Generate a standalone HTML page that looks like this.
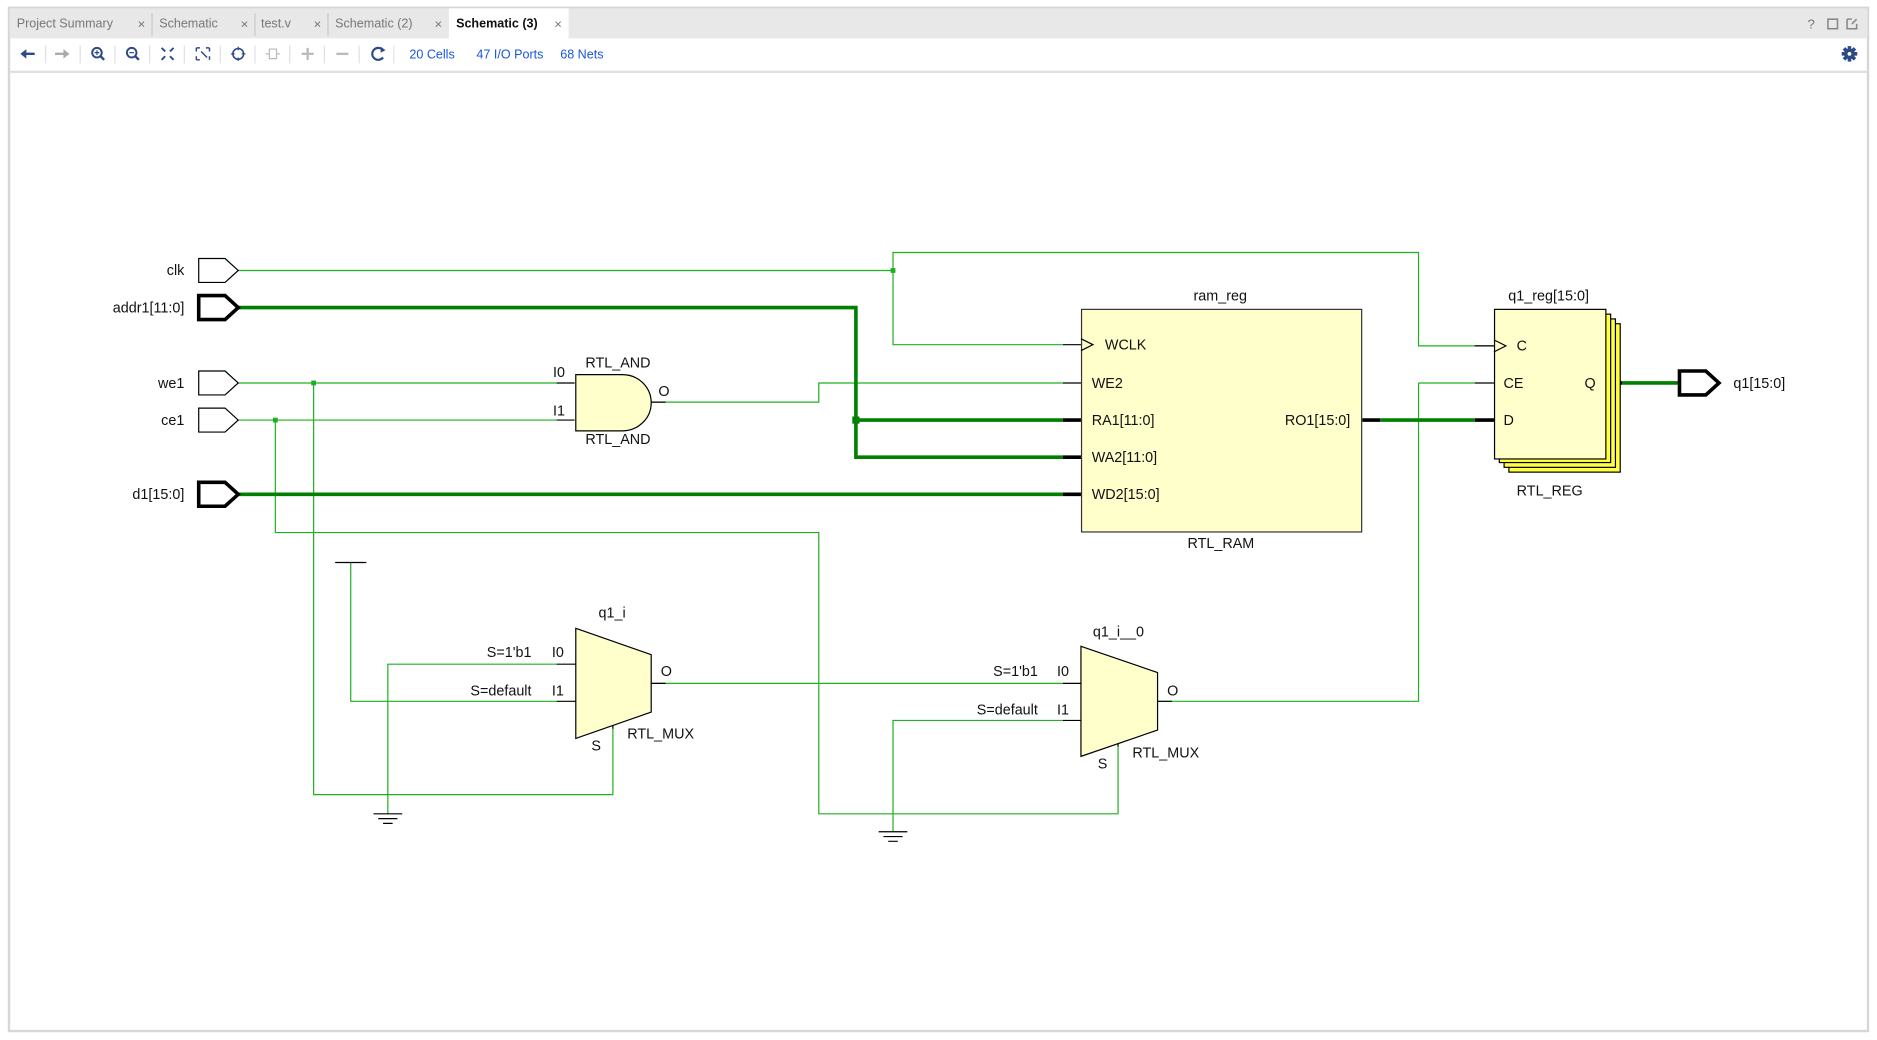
<!DOCTYPE html>
<html><head><meta charset="utf-8"><style>
html,body{margin:0;padding:0;background:#fff;width:1877px;height:1040px;overflow:hidden}
svg{display:block}
text{font-family:"Liberation Sans",Arial,sans-serif}
</style></head><body>
<svg width="1877" height="1040" viewBox="0 0 1568 869" preserveAspectRatio="none" xmlns="http://www.w3.org/2000/svg">
<rect x="0" y="0" width="1568" height="869" fill="#fff"/>
<!-- frame -->
<rect x="7.5" y="6.5" width="1553" height="855" fill="#fff" stroke="#d6d6d6" stroke-width="2"/>
<rect x="8" y="7" width="1552" height="25" fill="#e8e8e8"/>
<rect x="375" y="7" width="100" height="26" fill="#fff"/>
<line x1="8" y1="60" x2="1560" y2="60" stroke="#e0e0e0" stroke-width="2"/>
<g font-size="10.5" fill="#777">
<text x="14" y="23">Project Summary</text><text x="115" y="24" font-size="11">×</text>
<line x1="127" y1="11" x2="127" y2="30" stroke="#c8c8c8"/>
<text x="133" y="23">Schematic</text><text x="201" y="24" font-size="11">×</text>
<line x1="213" y1="11" x2="213" y2="30" stroke="#c8c8c8"/>
<text x="218" y="23">test.v</text><text x="262" y="24" font-size="11">×</text>
<line x1="274" y1="11" x2="274" y2="30" stroke="#c8c8c8"/>
<text x="280" y="23">Schematic (2)</text><text x="363" y="24" font-size="11">×</text>
<text x="381" y="23" fill="#111" font-weight="bold">Schematic (3)</text><text x="463" y="24" font-size="11">×</text>
<text x="1510" y="24" font-size="11">?</text>
</g>
<rect x="1527" y="16" width="8" height="8" fill="none" stroke="#888" stroke-width="1.3"/>
<path d="M1543 16 h4 M1543 16 v8 h8 v-4 M1547 20 l4 -4" fill="none" stroke="#888" stroke-width="1.3"/>
<!-- toolbar -->
<g fill="#2c4a86" stroke="#2c4a86">
<path d="M17 45 l5 -4 v3 h7 v2 h-7 v3 z" stroke="none"/>
<path d="M58 45 l-5 -4 v3 h-7 v2 h7 v3 z" fill="#aaa" stroke="none"/>
<circle cx="81" cy="44" r="4" fill="none" stroke-width="1.6"/><line x1="84" y1="47" x2="87" y2="50" stroke-width="2"/><path d="M79 44h4M81 42v4" stroke-width="1"/>
<circle cx="110" cy="44" r="4" fill="none" stroke-width="1.6"/><line x1="113" y1="47" x2="116" y2="50" stroke-width="2"/><path d="M108 44h4" stroke-width="1"/>
<path d="M135 40 l3 3 M145 40 l-3 3 M135 50 l3 -3 M145 50 l-3 -3" stroke-width="1.6"/>
<path d="M164 40 h3 M164 40 v3 M175 40 h-3 M175 40 v3 M164 50 h3 M164 50 v-3 M175 50 v-3 M168 43 l5 5" stroke-width="1.2" fill="none"/>
<circle cx="199" cy="45" r="4.5" fill="none" stroke-width="1.3"/><path d="M199 39v3M199 48v3M193 45h3M202 45h3" stroke-width="1"/>
<path d="M225 41h6v8h-6z M222 45h3 M231 45h3" fill="none" stroke="#bbb"/>
<path d="M257 40v10M252 45h10" stroke="#bbb" stroke-width="2"/>
<path d="M281 45h10" stroke="#bbb" stroke-width="2"/>
<path d="M320 42 a5 5 0 1 0 0 6" fill="none" stroke-width="1.8"/><path d="M318 39 l4 3 l-4 2z" stroke="none"/>
</g>
<g stroke="#e0e0e0"><line x1="38" y1="38" x2="38" y2="53"/><line x1="67" y1="38" x2="67" y2="53"/><line x1="96" y1="38" x2="96" y2="53"/><line x1="125" y1="38" x2="125" y2="53"/><line x1="154" y1="38" x2="154" y2="53"/><line x1="184" y1="38" x2="184" y2="53"/><line x1="213" y1="38" x2="213" y2="53"/><line x1="242" y1="38" x2="242" y2="53"/><line x1="271" y1="38" x2="271" y2="53"/><line x1="300" y1="38" x2="300" y2="53"/><line x1="329" y1="38" x2="329" y2="53"/></g>
<g font-size="10.5" fill="#1a55e0"><text x="342" y="49">20 Cells</text><text x="398" y="49">47 I/O Ports</text><text x="468" y="49">68 Nets</text></g>
<g transform="translate(1545,45)" fill="#2c4a86"><circle r="4.5"/><path d="M-1.5 -6.5h3v13h-3z M-6.5 -1.5h13v3h-13z" /><path d="M-1.5 -6.5h3v13h-3z" transform="rotate(45)"/><path d="M-1.5 -6.5h3v13h-3z" transform="rotate(-45)"/><circle r="1.6" fill="#fff"/></g>

<!-- thin nets -->
<g fill="none" stroke="#1fb01f" stroke-width="1">
<path d="M199 226H746 M746 226V211H1185V289H1248 M746 226V288H888"/>
<path d="M199 320H465 M262 320V664H512V609"/>
<path d="M199 351H465 M230 351V445H684V680H934V624"/>
<path d="M544 336H684V320H888"/>
<path d="M1185 320H1232 M1185 320V586H967"/>
<path d="M293 470V586H465 M324 680V555H465"/>
<path d="M544 571H888"/>
<path d="M746 695V602H888"/>
</g>
<g fill="#1fb01f"><rect x="744" y="224" width="4" height="4"/><rect x="260" y="318" width="4" height="4"/><rect x="228" y="349" width="4" height="4"/></g>
<!-- thick nets -->
<g fill="none" stroke="#008000" stroke-width="3">
<path d="M199 257H715V382H888 M715 351H888"/>
<path d="M199 413H888"/>
<path d="M1153 351H1232"/>
<path d="M1355 320H1402"/>
</g>
<rect x="712" y="348" width="6" height="6" fill="#008000"/>
<!-- black stubs -->
<g stroke="#000" stroke-width="1"><path d="M888 288H903 M888 320H903 M1232 289H1248 M1232 320H1248 M465 320H480 M465 351H480 M544 336H556 M465 555H481 M465 586H481 M544 571H556 M888 571H903 M888 602H903 M967 586H979 M512 597V609 M934 612V624"/></g>
<g stroke="#000" stroke-width="3"><path d="M888 351H903 M888 382H903 M888 413H903 M1138 351H1153 M1232 351H1248 M1341 320H1355"/></g>
<!-- ports -->
<g fill="#fff" stroke="#000" stroke-width="1"><path d="M166 216h22l11 10l-11 10h-22z"/><path d="M166 310h22l11 10l-11 10h-22z"/><path d="M166 341h22l11 10l-11 10h-22z"/></g>
<g fill="#fff" stroke="#000" stroke-width="3"><path d="M166 247h22l11 10l-11 10h-22z"/><path d="M166 403h22l11 10l-11 10h-22z"/><path d="M1403 310h22l11 10l-11 10h-22z"/></g>
<g font-size="12" fill="#111" text-anchor="end"><text x="154" y="230">clk</text><text x="154" y="261">addr1[11:0]</text><text x="154" y="324">we1</text><text x="154" y="355">ce1</text><text x="154" y="417">d1[15:0]</text></g>
<text x="1448" y="324" font-size="12" fill="#111">q1[15:0]</text>
<!-- AND -->
<path d="M481 313H520A24 23.5 0 0 1 520 360H481Z" fill="#ffffcc" stroke="#000"/>
<g font-size="12" fill="#111"><text x="489" y="307">RTL_AND</text><text x="489" y="371">RTL_AND</text><text x="462" y="315">I0</text><text x="462" y="347">I1</text><text x="550" y="331">O</text></g>
<!-- RAM -->
<rect x="903.5" y="258.5" width="234" height="186" fill="#ffffcc" stroke="#333"/>
<path d="M903 283l10 5l-10 5" fill="none" stroke="#000"/>
<g font-size="12" fill="#111"><text x="997" y="251">ram_reg</text><text x="992" y="458">RTL_RAM</text>
<text x="923" y="292">WCLK</text><text x="912" y="324">WE2</text><text x="912" y="355">RA1[11:0]</text><text x="912" y="386">WA2[11:0]</text><text x="912" y="417">WD2[15:0]</text><text x="1128" y="355" text-anchor="end">RO1[15:0]</text></g>
<!-- REG -->
<g stroke="#000"><rect x="1260.5" y="270.5" width="93" height="124" fill="#ffff44"/><rect x="1256.5" y="266.5" width="93" height="124" fill="#ffff44"/><rect x="1252.5" y="262.5" width="93" height="124" fill="#ffff44"/><rect x="1248.5" y="258.5" width="93" height="125" fill="#ffffcc"/></g>
<path d="M1248 284l10 5l-10 5" fill="none" stroke="#000"/>
<g font-size="12" fill="#111"><text x="1260" y="251">q1_reg[15:0]</text><text x="1267" y="414">RTL_REG</text><text x="1267" y="293">C</text><text x="1256" y="324">CE</text><text x="1256" y="355">D</text><text x="1333" y="324" text-anchor="end">Q</text></g>
<!-- MUX1 -->
<path d="M481 525L544 547V595L481 617Z" fill="#ffffcc" stroke="#000"/>
<g font-size="12" fill="#111"><text x="500" y="516">q1_i</text><text x="444" y="549" text-anchor="end">S=1'b1</text><text x="461" y="549">I0</text><text x="444" y="581" text-anchor="end">S=default</text><text x="461" y="581">I1</text><text x="552" y="565">O</text><text x="524" y="617">RTL_MUX</text><text x="494" y="627">S</text></g>
<!-- MUX2 -->
<path d="M903 540L967 562V610L903 632Z" fill="#ffffcc" stroke="#000"/>
<g font-size="12" fill="#111"><text x="913" y="532">q1_i__0</text><text x="867" y="565" text-anchor="end">S=1'b1</text><text x="883" y="565">I0</text><text x="867" y="597" text-anchor="end">S=default</text><text x="883" y="597">I1</text><text x="975" y="581">O</text><text x="946" y="633">RTL_MUX</text><text x="917" y="642">S</text></g>
<!-- vcc / gnd -->
<g stroke="#000"><path d="M280 470H306"/><path d="M312 680H336M316 684H332M320 688H328"/><path d="M734 695H758M738 699H754M742 703H750"/></g>
</svg>
</body></html>
